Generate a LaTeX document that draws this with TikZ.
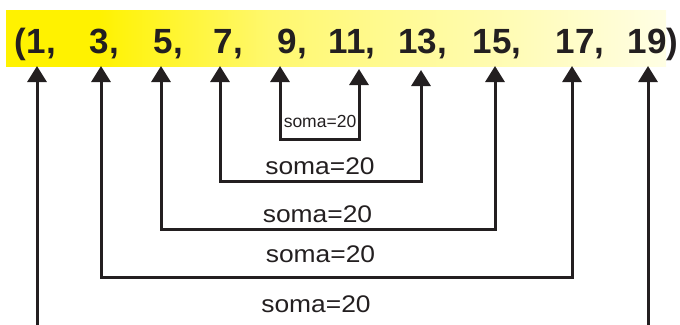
\documentclass[tikz,border=0pt]{standalone}
\usepackage{fontspec}
\setmainfont{Liberation Sans}
\newfontfamily\lblfont[FakeStretch=1.1]{Liberation Sans}
\usetikzlibrary{arrows.meta}
\definecolor{ink}{RGB}{35,31,32}
\definecolor{bandA}{RGB}{255,242,0}
\definecolor{bandB}{RGB}{255,248,110}
\definecolor{bandC}{RGB}{255,254,228}
\pgfdeclarehorizontalshading{bandshade}{100bp}{color(0bp)=(bandA); color(25bp)=(bandA); color(32bp)=(bandA); color(45bp)=(bandB); color(75bp)=(bandC); color(100bp)=(bandC)}
\tikzset{
  num/.style={font=\fontsize{35}{38}\selectfont\bfseries, text=ink, inner sep=0pt, anchor=base},
  punct/.style={font=\fontsize{35}{38}\selectfont\bfseries, text=ink, inner sep=0pt},
  lbl/.style={font=\lblfont\fontsize{24}{26}\selectfont, text=ink, inner sep=0pt, anchor=base},
  smalllbl/.style={font=\fontsize{17.5}{19}\selectfont, text=ink, inner sep=0pt, anchor=base},
  brk/.style={draw=ink, line width=3pt, >={Triangle[width=19pt,length=16pt]}},
}
\begin{document}
\begin{tikzpicture}[x=1pt,y=-1pt]
\useasboundingbox (0,0) rectangle (680,324);
% band
\path[shading=bandshade] (6,10) rectangle (666,66);
% numbers
\node[num] (n1) at (36,53) {1};
\node[num] (n3) at (99,53) {3};
\node[num] (n5) at (163,53) {5};
\node[num] (n7) at (223,53) {7};
\node[num] (n9) at (287,53) {9};
\node[num] (n11) at (347,53) {11};
\node[num] (n13) at (418,53) {13};
\node[num] (n15) at (492,53) {15};
\node[num] (n17) at (575,53) {17};
\node[num] (n19) at (647,53) {19};
\node[punct, anchor=base east] (lp) at (n1.base west) {(};
\node[punct, anchor=base west] (rp) at (n19.base east) {)};
\foreach \n in {1,3,5,7,9,11,13,15,17}
  \node[punct, anchor=base west] (c\n) at (n\n.base east) {,};
% arrow tips
\coordinate (a1) at (37,66);
\coordinate (a3) at (101,66);
\coordinate (a5) at (161,66);
\coordinate (a7) at (220,66);
\coordinate (a9) at (280,66);
\coordinate (a11) at (359,69);
\coordinate (a13) at (421,70);
\coordinate (a15) at (495,66);
\coordinate (a17) at (572,66);
\coordinate (a19) at (648,66);
% bracket bottoms
\coordinate (b9) at (280,139);
\coordinate (b11) at (359,139);
\coordinate (b7) at (220,181);
\coordinate (b13) at (421,181);
\coordinate (b5) at (161,229);
\coordinate (b15) at (495,229);
\coordinate (b3) at (101,277);
\coordinate (b17) at (572,277);
\coordinate (e1) at (37,330);
\coordinate (e19) at (648,330);
% brackets
\draw[brk,<->] (a9) -- (b9) -- (b11) -- (a11);
\draw[brk,<->] (a7) -- (b7) -- (b13) -- (a13);
\draw[brk,<->] (a5) -- (b5) -- (b15) -- (a15);
\draw[brk,<->] (a3) -- (b3) -- (b17) -- (a17);
\draw[brk,->] (e1) -- (a1);
\draw[brk,->] (e19) -- (a19);
% labels
\node[smalllbl] (s1) at (320,127) {soma=20};
\node[lbl] (s2) at (320,174) {soma=20};
\node[lbl] (s3) at (317.5,222) {soma=20};
\node[lbl] (s4) at (320.5,262) {soma=20};
\node[lbl] (s5) at (316,312) {soma=20};
\end{tikzpicture}
\end{document}
